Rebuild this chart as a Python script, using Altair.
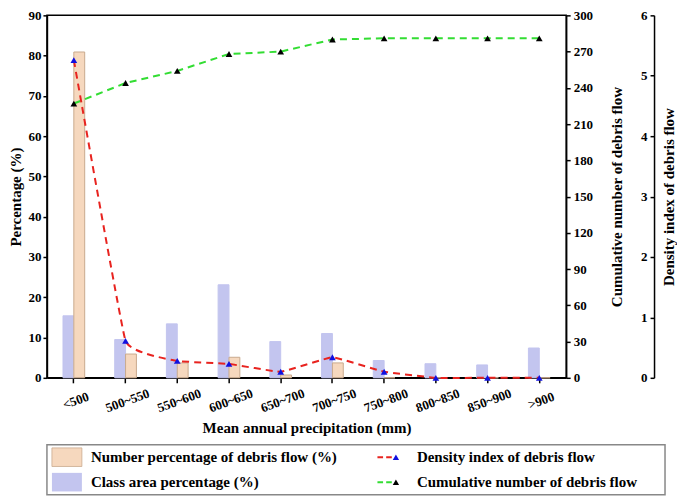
import altair as alt
import pandas as pd

# ---- data ----
cats = ["<500", "500~550", "550~600", "600~650", "650~700",
        "700~750", "750~800", "800~850", "850~900", ">900"]
num_pct = [80.9, 5.9, 3.7, 5.1, 0.7, 3.7, 0.0, 0.0, 0.0, 0.0]
area_pct = [15.4, 9.5, 13.4, 23.1, 9.0, 11.0, 4.3, 3.5, 3.2, 7.4]
cum_num = [227, 244, 254, 268, 270, 280, 281, 281, 281, 281]
dens_idx = [5.26, 0.61, 0.28, 0.23, 0.10, 0.34, 0.10, 0.0, 0.0, 0.0]

left_ticks = list(range(0, 91, 10))
right_ticks = list(range(0, 301, 30))
dens_ticks = list(range(0, 7))

s_area = "Class area percentage (%)"
s_num = "Number percentage of debris flow (%)"
s_dens = "Density index of debris flow"
s_cum = "Cumulative number of debris flow"

leg_labels = [s_num, s_area, s_dens, s_cum]
leg_col = [0, 0, 1, 1]
leg_row = [0, 1, 0, 1]
leg_kind = ["num", "area", "dens", "cum"]

FONT = "Liberation Serif"
W, H = 520, 363
C_NUM, C_NUM_STROKE = "#F6D8BE", "#C9AA8E"
C_AREA = "#C3C5EF"
C_RED, C_BLUE = "#E8231F", "#1010E0"
C_GREEN, C_BLACK = "#33DD33", "#000000"

bars_df = pd.DataFrame({
    "cat": cats * 2,
    "series": [s_area] * len(cats) + [s_num] * len(cats),
    "value": area_pct + num_pct,
})
lines_df = pd.DataFrame({"cat": cats, "cum": cum_num, "dens": dens_idx})

xscale = alt.Scale(paddingInner=0.58, paddingOuter=0.31)
xenc = alt.X("cat:N", sort=cats, scale=xscale,
             axis=alt.Axis(title="Mean annual precipitation (mm)", labelAngle=-20,
                           labelAlign="center", labelBaseline="top", labelPadding=12,
                           tickSize=5, titlePadding=6, labelOverlap=False))

bars = alt.Chart(bars_df).mark_bar().encode(
    x=xenc,
    xOffset=alt.XOffset("series:N", sort=[s_area, s_num],
                        scale=alt.Scale(paddingInner=0, paddingOuter=0)),
    y=alt.Y("value:Q", scale=alt.Scale(domain=[0, 90], nice=False),
            axis=alt.Axis(orient="left", title="Percentage (%)", values=left_ticks,
                          grid=False, tickSize=4, titlePadding=4, labelPadding=2,
                          labelOverlap=False)),
    color=alt.Color("series:N", scale=alt.Scale(domain=[s_area, s_num],
                                                range=[C_AREA, C_NUM]), legend=None),
    stroke=alt.Stroke("series:N", scale=alt.Scale(domain=[s_area, s_num],
                                                  range=[C_AREA, C_NUM_STROKE]), legend=None),
)

cum_axis = alt.Axis(orient="right", title=s_cum, values=right_ticks, grid=False,
                    tickSize=4, titleAngle=270, titleX=50, titleY=H / 2,
                    titleAlign="center", titleBaseline="middle", labelOverlap=False)
cum_scale = alt.Scale(domain=[0, 300], nice=False)
cum_line = alt.Chart(lines_df).mark_line(color=C_GREEN, strokeDash=[7, 5], strokeWidth=2).encode(
    x=alt.X("cat:N", sort=cats), y=alt.Y("cum:Q", scale=cum_scale, axis=cum_axis))
cum_pts = alt.Chart(lines_df).mark_point(shape="triangle-up", filled=True, size=45,
                                         color=C_BLACK, opacity=1).encode(
    x=alt.X("cat:N", sort=cats), y=alt.Y("cum:Q", scale=cum_scale, axis=cum_axis))
cum_layer = alt.layer(cum_line, cum_pts)

dens_axis = alt.Axis(orient="left", offset=-(W + 88), title=s_dens, values=dens_ticks,
                     format="d", grid=False, tickSize=4, titleAngle=270, titleX=14,
                     titleY=H / 2, titleAlign="center", titleBaseline="middle",
                     labelOverlap=False)
dens_scale = alt.Scale(domain=[0, 6], nice=False)
dens_line = alt.Chart(lines_df).mark_line(color=C_RED, strokeDash=[7, 5], strokeWidth=2,
                                          interpolate="cardinal", tension=0.75).encode(
    x=alt.X("cat:N", sort=cats), y=alt.Y("dens:Q", scale=dens_scale, axis=dens_axis))
dens_pts = alt.Chart(lines_df).mark_point(shape="triangle-up", filled=True, size=45,
                                          color=C_BLUE, opacity=1).encode(
    x=alt.X("cat:N", sort=cats), y=alt.Y("dens:Q", scale=dens_scale, axis=dens_axis))
dens_layer = alt.layer(dens_line, dens_pts)

main = alt.layer(bars, cum_layer, dens_layer).resolve_scale(y="independent").properties(
    width=W, height=H, view=alt.ViewBackground(stroke="black", strokeWidth=1.5))

# ---- legend panel ----
LW = 619
leg_df = pd.DataFrame({"label": leg_labels, "col": leg_col, "row": leg_row, "kind": leg_kind})
lx = alt.X("col:Q", axis=None, scale=alt.Scale(domain=[0, 2], nice=False, zero=False))
ly = alt.Y("row:O", axis=None, scale=alt.Scale(paddingInner=0, paddingOuter=0.2))
base = alt.Chart(leg_df)
rect_path = "M-1,-0.62H1V0.62H-1Z"
dash_path = "M-1,0H-0.55M-0.3,0H0.15"
leg_num = base.mark_point(shape=rect_path, size=900, filled=True, color=C_NUM, opacity=1,
                          stroke=C_NUM_STROKE, strokeWidth=0.8).encode(
    x=lx, xOffset=alt.value(20), y=ly).transform_filter(alt.datum.kind == "num")
leg_area = base.mark_point(shape=rect_path, size=900, filled=True, color=C_AREA, opacity=1).encode(
    x=lx, xOffset=alt.value(20), y=ly).transform_filter(alt.datum.kind == "area")
leg_dens_l = base.mark_point(shape=dash_path, size=625, filled=False, color=C_RED, opacity=1,
                             strokeWidth=2).encode(
    x=lx, xOffset=alt.value(34), y=ly).transform_filter(alt.datum.kind == "dens")
leg_dens_p = base.mark_point(shape="triangle-up", size=40, filled=True, color=C_BLUE,
                             opacity=1).encode(
    x=lx, xOffset=alt.value(40), y=ly).transform_filter(alt.datum.kind == "dens")
leg_cum_l = base.mark_point(shape=dash_path, size=625, filled=False, color=C_GREEN, opacity=1,
                            strokeWidth=2).encode(
    x=lx, xOffset=alt.value(34), y=ly).transform_filter(alt.datum.kind == "cum")
leg_cum_p = base.mark_point(shape="triangle-up", size=40, filled=True, color=C_BLACK,
                            opacity=1).encode(
    x=lx, xOffset=alt.value(40), y=ly).transform_filter(alt.datum.kind == "cum")
txt0 = base.mark_text(align="left", baseline="middle", fontSize=15, fontWeight="bold",
                      font=FONT, dx=44, color="black").encode(
    x=lx, y=ly, text="label:N").transform_filter(alt.datum.col == 0)
txt1 = base.mark_text(align="left", baseline="middle", fontSize=15, fontWeight="bold",
                      font=FONT, dx=61, color="black").encode(
    x=lx, y=ly, text="label:N").transform_filter(alt.datum.col == 1)

legend_panel = alt.layer(leg_num, leg_area, leg_dens_l, leg_dens_p, leg_cum_l, leg_cum_p,
                         txt0, txt1).properties(
    width=LW, height=50, view=alt.ViewBackground(stroke="#888888", strokeWidth=1.5))

chart = alt.vconcat(main, legend_panel, spacing=7).properties(
    padding={"left": 0, "top": 0, "right": 0, "bottom": 0}
).configure(font=FONT).configure_axis(
    labelFont=FONT, titleFont=FONT, labelFontWeight="bold", titleFontWeight="bold",
    labelFontSize=13, titleFontSize=15, labelColor="black", titleColor="black",
    domainColor="black", tickColor="black", domainWidth=1.5, tickWidth=1.5, labelPadding=3,
)

chart.save("out.html", embed_options={"renderer": "svg", "actions": False})
